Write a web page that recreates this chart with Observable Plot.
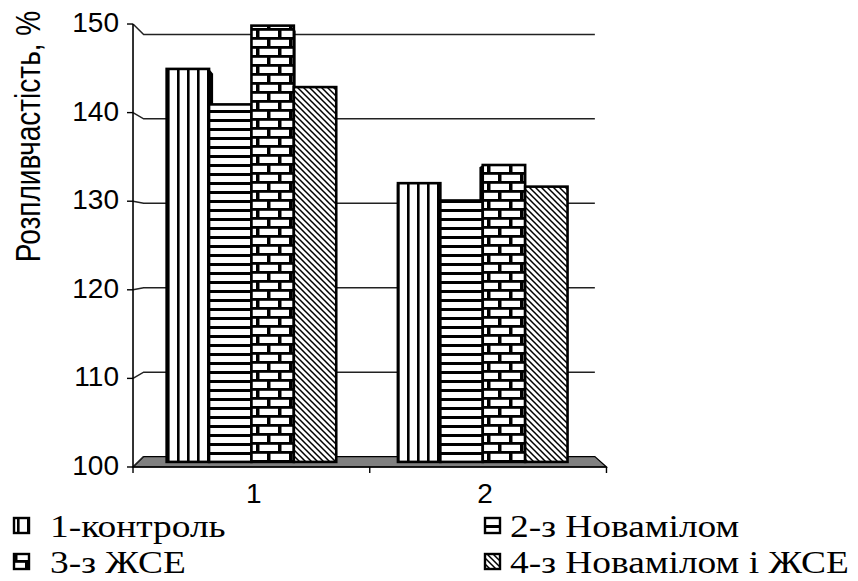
<!DOCTYPE html>
<html>
<head>
<meta charset="utf-8">
<script src="https://cdn.jsdelivr.net/npm/d3@7"></script>
<script src="https://cdn.jsdelivr.net/npm/@observablehq/plot@0.6"></script>
<style>
  body { margin: 0; background: #fff; }
  #wrap { width: 858px; height: 581px; position: relative; overflow: hidden; background: #fff; }
  #wrap svg { display: block; }
  .sans { font-family: "Liberation Sans", Arimo, Arial, sans-serif; }
  .serif { font-family: "Liberation Serif", Tinos, "Times New Roman", serif; }
</style>
</head>
<body>
<svg width="0" height="0" style="position:absolute">
  <defs>
    <pattern id="pat0" patternUnits="userSpaceOnUse" x="7" y="0" width="10" height="10">
      <rect width="10" height="10" fill="#fff"/>
      <rect x="0" y="0" width="2.6" height="10" fill="#000"/>
    </pattern>
    <pattern id="pat1" patternUnits="userSpaceOnUse" x="0" y="2" width="10" height="9">
      <rect width="10" height="9" fill="#fff"/>
      <rect x="0" y="0" width="10" height="3" fill="#000"/>
    </pattern>
    <pattern id="pat2" patternUnits="userSpaceOnUse" x="3" y="1" width="22" height="18">
      <rect width="22" height="18" fill="#fff"/>
      <rect x="0" y="0" width="22" height="2.8" fill="#000"/>
      <rect x="0" y="9" width="22" height="2.8" fill="#000"/>
      <rect x="0" y="0" width="3.5" height="9" fill="#000"/>
      <rect x="11" y="9" width="3.5" height="9" fill="#000"/>
    </pattern>
    <pattern id="pat3" patternUnits="userSpaceOnUse" x="0" y="0" width="6" height="6">
      <rect width="6" height="6" fill="#fff"/>
      <path d="M0,0L6,6M-1,5L1,7M5,-1L7,1" stroke="#000" stroke-width="1.5"/>
    </pattern>
  </defs>
</svg>
<div id="wrap"></div>
<script>
// ---- data ----
const groups = ["1", "2"];
const series = ["1-контроль", "2-з Новамілом", "3-з ЖСЕ", "4-з Новамілом і ЖСЕ"];
const valuesGroup1 = [145.4, 141.3, 150.4, 143.3];
const valuesGroup2 = [132.2, 130.2, 134.3, 131.8];
const yTicks = [100, 110, 120, 130, 140, 150];
const yLabel = "Розпливчастість, %";

const valuesByGroup = [valuesGroup1, valuesGroup2];
const data = [];
groups.forEach((g, gi) => series.forEach((s, si) =>
  data.push({group: g, gi, series: s, si, value: valuesByGroup[gi][si]})));

// ---- layout / 3D projection constants ----
const groupStart = 0.123, barW = 0.1833;
const bx1 = d => d.gi + groupStart + d.si * barW;
const bx2 = d => bx1(d) + barW;
const eye = {x: 0.955, y: 125};        // vanishing point in data space
const kFront = 1.0235, kBack = 0.9754, kBar = 0.973;
const yMin = yTicks[0], yMax = yTicks[yTicks.length - 1];

function projector(scales) {
  const {x, y} = scales;
  const ex = x(eye.x), ey = y(eye.y);
  return {
    ex, ey,
    P: (vx, vy, k) => [ex + (x(vx) - ex) * k, ey + (y(vy) - ey) * k],
    Q: (px, py, k) => [ex + (px - ex) * k, ey + (py - ey) * k]
  };
}
const pathOf = pts => "M" + pts.map(p => p[0].toFixed(2) + "," + p[1].toFixed(2)).join("L") + "Z";

// back wall gridlines, floor and connectors
const backdrop = (index, scales) => {
  const {P} = projector(scales);
  const g = d3.create("svg:g");
  const nG = groups.length;
  g.append("path")
    .attr("d", pathOf([P(0, yMin, kFront), P(nG, yMin, kFront), P(nG, yMin, kBack), P(0, yMin, kBack)]))
    .attr("fill", "#808080").attr("stroke", "#000").attr("stroke-width", 1.2);
  for (const v of yTicks) {
    const a = P(0, v, kFront), b = P(0, v, kBack), c = P(nG, v, kBack);
    const d = v === yMin ? `M${a}L${b}` : `M${a}L${b}L${c}`;
    g.append("path").attr("d", d).attr("fill", "none")
      .attr("stroke", "#222").attr("stroke-width", 1.5);
  }
  return g.node();
};

// dark side faces of the bars (depth)
const sideFaces = (index, scales) => {
  const {x, y} = scales;
  const {ex, Q} = projector(scales);
  const g = d3.create("svg:g").attr("fill", "#000");
  for (const d of data) {
    const xa = x(bx1(d)), xb = x(bx2(d)), yt = y(d.value), yb = y(yMin);
    const xs = xb < ex ? xb : (xa > ex ? xa : null);
    if (xs == null) continue;
    g.append("path").attr("d", pathOf([[xs, yt], Q(xs, yt, kBar), Q(xs, yb, kBar), [xs, yb]]));
  }
  return g.node();
};

// front axes, tick labels and axis title
const frontAxes = (index, scales) => {
  const {x} = scales;
  const {P} = projector(scales);
  const g = d3.create("svg:g").attr("class", "sans");
  const top = P(0, yMax, kFront), bot = P(0, yMin, kFront);
  g.append("line").attr("x1", top[0]).attr("y1", top[1]).attr("x2", bot[0]).attr("y2", bot[1])
    .attr("stroke", "#000").attr("stroke-width", 1.6);
  for (const v of yTicks) {
    const p = P(0, v, kFront);
    g.append("line").attr("x1", p[0] - 6).attr("x2", p[0]).attr("y1", p[1]).attr("y2", p[1])
      .attr("stroke", "#000").attr("stroke-width", 1.4);
    g.append("text").attr("class", "sans").attr("x", p[0] - 14).attr("y", p[1] + 8)
      .attr("text-anchor", "end")
      .style("font-size", "28px").attr("fill", "#000").text(v);
  }
  const nG = groups.length;
  const l = P(0, yMin, kFront), r = P(nG, yMin, kFront);
  g.append("line").attr("x1", l[0]).attr("y1", l[1]).attr("x2", r[0]).attr("y2", r[1])
    .attr("stroke", "#000").attr("stroke-width", 1.6);
  for (let i = 0; i <= nG; i++) {
    const p = P(i, yMin, kFront);
    g.append("line").attr("x1", p[0]).attr("x2", p[0]).attr("y1", p[1]).attr("y2", p[1] + 6)
      .attr("stroke", "#000").attr("stroke-width", 1.4);
  }
  groups.forEach((gname, gi) => {
    g.append("text").attr("class", "sans").attr("x", x(gi + 0.5)).attr("y", l[1] + 36)
      .attr("text-anchor", "middle").style("font-size", "28px").attr("fill", "#000").text(gname);
  });
  g.append("text").attr("class", "sans")
    .attr("transform", `translate(40,${(top[1] + bot[1]) / 2 - 109}) rotate(-90) scale(1,1.25)`)
    .attr("text-anchor", "middle")
    .style("font-size", "28px").attr("fill", "#000")
    .text(yLabel);
  return g.node();
};

const W = 858, H = 505;
const chart = Plot.plot({
  width: W, height: H,
  marginLeft: 138.2, marginRight: 257.2, marginTop: 29.1, marginBottom: 43.1,
  x: {domain: [0, groups.length], axis: null},
  y: {domain: [yMin, yMax], axis: null},
  style: {background: "#fff", overflow: "visible"},
  marks: [
    backdrop,
    sideFaces,
    ...series.map((s, si) => Plot.rect(data.filter(d => d.si === si), {
      x1: bx1, x2: bx2, y1: () => yMin, y2: "value",
      fill: `url(#pat${si})`, stroke: "#000", strokeWidth: 2.6
    })),
    frontAxes
  ]
});
const wrap = document.getElementById("wrap");
wrap.appendChild(chart);

// ---- legend (below the SVG) ----
const legendPos = [[14, 0], [485, 0], [14, 1], [485, 1]];
const textOffset = [36, 25, 36, 25];
const leg = d3.create("svg").attr("width", W).attr("height", 581 - H);
series.forEach((s, si) => {
  const [lx, row] = legendPos[si];
  const cy = 20 + row * 36;
  leg.append("rect").attr("x", lx).attr("y", cy - 7).attr("width", 15).attr("height", 15)
    .attr("fill", `url(#pat${si})`).attr("stroke", "#000").attr("stroke-width", 2.4);
  leg.append("text").attr("class", "serif")
    .attr("transform", `translate(${lx + textOffset[si]},${cy + 12}) scale(1.17,1)`)
    .style("font-size", "32px").attr("fill", "#000").text(s);
});
wrap.appendChild(leg.node());
</script>
</body>
</html>
